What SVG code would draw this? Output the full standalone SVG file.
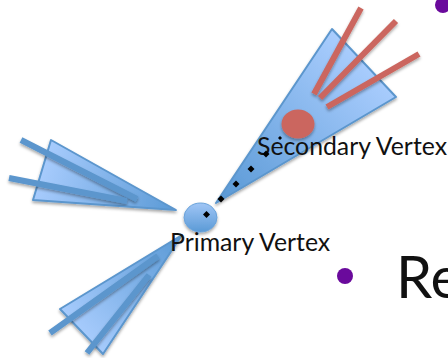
<svg xmlns="http://www.w3.org/2000/svg" width="448" height="358" viewBox="0 0 448 358">
  <style>
    .cone { stroke: #5b96cd; stroke-width: 2; stroke-linejoin: round; filter: url(#shadow); }
    .blue-track { stroke: #5b96cd; stroke-width: 6; fill: none; filter: url(#shadow); }
    .red-track { stroke: #cb665e; stroke-width: 6; fill: none; filter: url(#shadow); }
    .label { font-family: "Lato", "Open Sans", sans-serif; font-size: 24.800px; fill: #111; }
    .big { font-family: "Lato", "Open Sans", sans-serif; font-size: 58px; fill: #111; }
    .bullet { fill: #6a0a9c; }
    .dot { fill: #000; }
  </style>
  <defs>
    <filter id="shadow" x="-20%" y="-20%" width="140%" height="140%">
      <feDropShadow dx="0" dy="2" stdDeviation="1.500" flood-color="#000" flood-opacity="0.350"/>
    </filter>
    <linearGradient id="secondaryFill" gradientUnits="userSpaceOnUse" x1="360" y1="60" x2="225" y2="200">
      <stop offset="0" stop-color="#a8ccfd"/>
      <stop offset="1" stop-color="#5b9ad6"/>
    </linearGradient>
    <linearGradient id="upperFill" gradientUnits="userSpaceOnUse" x1="40" y1="170" x2="175" y2="210">
      <stop offset="0" stop-color="#a8ccfd"/>
      <stop offset="1" stop-color="#5b9ad6"/>
    </linearGradient>
    <linearGradient id="lowerFill" gradientUnits="userSpaceOnUse" x1="80" y1="335" x2="180" y2="238">
      <stop offset="0" stop-color="#a8ccfd"/>
      <stop offset="1" stop-color="#5b9ad6"/>
    </linearGradient>
    <linearGradient id="vertexFill" x1="0" y1="0" x2="0" y2="1">
      <stop offset="0" stop-color="#a0c6f6"/>
      <stop offset="1" stop-color="#5b9ad6"/>
    </linearGradient>
  </defs>

  <g id="upper-jet">
    <polygon class="cone" points="176,210 51,140 33,200" fill="url(#upperFill)"/>
  </g>
  <g id="lower-jet">
    <polygon class="cone" points="182,235 60,309 103,354" fill="url(#lowerFill)"/>
  </g>
  <g id="secondary-jet">
    <polygon class="cone" points="216,203 332,29 396,97" fill="url(#secondaryFill)"/>
  </g>
  <g id="primary-vertex">
    <ellipse cx="200.500" cy="217.500" rx="16.500" ry="14.500" fill="url(#vertexFill)" stroke="#6aa3da" stroke-width="1" filter="url(#shadow)"/>
    <text class="label" x="170" y="250.500">Primary Vertex</text>
  </g>
  <g id="secondary-vertex">
    <ellipse cx="298" cy="124" rx="16.500" ry="14.500" fill="#cb665e" filter="url(#shadow)"/>
    <text class="label" x="257" y="154.500">Secondary Vertex</text>
  </g>

  <g id="connectors">
    <!-- Charged tracks leaving the two light jets -->
    <line class="blue-track" x1="137" y1="199" x2="21" y2="140"/>
    <line class="blue-track" x1="127" y1="201" x2="9" y2="178"/>
    <line class="blue-track" x1="158" y1="256" x2="50" y2="333"/>
    <line class="blue-track" x1="149" y1="275" x2="87" y2="353"/>
    <!-- Tracks leaving the secondary vertex -->
    <line class="red-track" x1="314" y1="94" x2="361" y2="8"/>
    <line class="red-track" x1="320" y1="98" x2="396" y2="21"/>
    <line class="red-track" x1="327" y1="107" x2="419" y2="54"/>
    <!-- Dotted flight path between the vertices -->
    <path class="dot" d="M206.500 211 l3.500 3.500 -3.500 3.500 -3.500 -3.500z"/>
    <path class="dot" d="M221 195.500 l3.500 3.500 -3.500 3.500 -3.500 -3.500z"/>
    <path class="dot" d="M236 180.500 l3.500 3.500 -3.500 3.500 -3.500 -3.500z"/>
    <path class="dot" d="M251 165.500 l3.500 3.500 -3.500 3.500 -3.500 -3.500z"/>
    <path class="dot" d="M266 150.500 l3.500 3.500 -3.500 3.500 -3.500 -3.500z"/>
    <path class="dot" d="M280 136 l2 2 -2 2 -2 -2z"/>
  </g>

  <g id="slide-text">
    <circle class="bullet" cx="443" cy="5" r="8"/>
    <circle class="bullet" cx="345" cy="276" r="8"/>
    <text class="big" x="396" y="298">Re</text>
  </g>
</svg>
